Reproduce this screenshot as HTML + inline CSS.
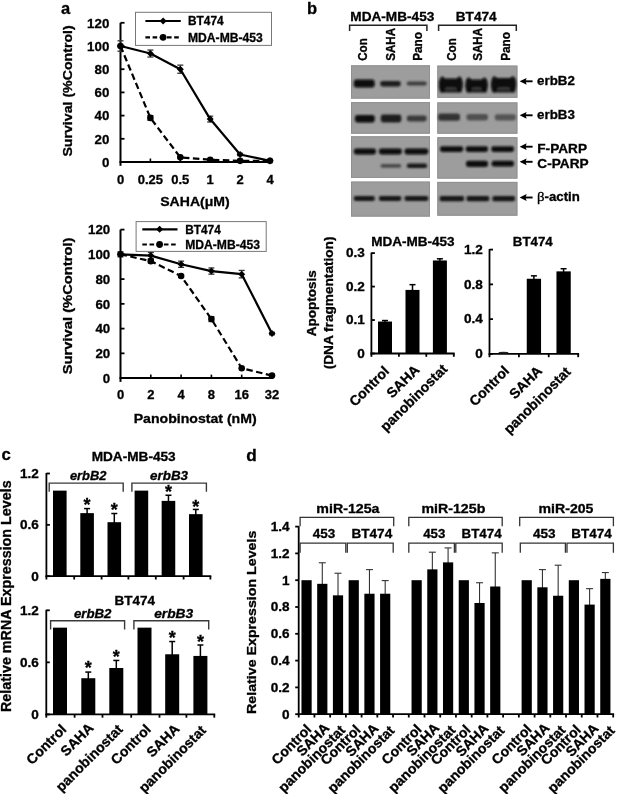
<!DOCTYPE html>
<html><head><meta charset="utf-8"><style>
html,body{margin:0;padding:0;background:#fff;}
svg{display:block;font-family:"Liberation Sans", sans-serif;will-change:transform;}
text{stroke:#000;stroke-width:0.3px;}
</style></head><body>
<svg width="617" height="794" viewBox="0 0 617 794">
<defs>
<filter id="blur1" x="-20%" y="-50%" width="140%" height="200%"><feGaussianBlur stdDeviation="0.9"/></filter>
<filter id="blur05"><feGaussianBlur stdDeviation="0.5"/></filter>
</defs>
<rect width="617" height="794" fill="#fff"/>
<text x="61.00" y="13.70" font-size="16.5" text-anchor="start" font-weight="bold">a</text>
<line x1="120.50" y1="22.80" x2="120.50" y2="165.80" stroke="#000" stroke-width="2" />
<line x1="119.50" y1="162.00" x2="271.50" y2="162.00" stroke="#000" stroke-width="2" />
<line x1="120.50" y1="162.00" x2="124.50" y2="162.00" stroke="#000" stroke-width="1.8" />
<text x="109.30" y="166.80" font-size="13.3" text-anchor="end" font-weight="bold">0</text>
<line x1="120.50" y1="138.80" x2="124.50" y2="138.80" stroke="#000" stroke-width="1.8" />
<text x="109.30" y="143.60" font-size="13.3" text-anchor="end" font-weight="bold">20</text>
<line x1="120.50" y1="115.60" x2="124.50" y2="115.60" stroke="#000" stroke-width="1.8" />
<text x="109.30" y="120.40" font-size="13.3" text-anchor="end" font-weight="bold">40</text>
<line x1="120.50" y1="92.40" x2="124.50" y2="92.40" stroke="#000" stroke-width="1.8" />
<text x="109.30" y="97.20" font-size="13.3" text-anchor="end" font-weight="bold">60</text>
<line x1="120.50" y1="69.20" x2="124.50" y2="69.20" stroke="#000" stroke-width="1.8" />
<text x="109.30" y="74.00" font-size="13.3" text-anchor="end" font-weight="bold">80</text>
<line x1="120.50" y1="46.00" x2="124.50" y2="46.00" stroke="#000" stroke-width="1.8" />
<text x="109.30" y="50.80" font-size="13.3" text-anchor="end" font-weight="bold">100</text>
<line x1="120.50" y1="22.80" x2="124.50" y2="22.80" stroke="#000" stroke-width="1.8" />
<text x="109.30" y="27.60" font-size="13.3" text-anchor="end" font-weight="bold">120</text>
<text x="120.50" y="183.70" font-size="13" text-anchor="middle" font-weight="bold">0</text>
<line x1="150.40" y1="162.00" x2="150.40" y2="158.50" stroke="#000" stroke-width="1.6" />
<text x="150.40" y="183.70" font-size="13" text-anchor="middle" font-weight="bold">0.25</text>
<line x1="180.30" y1="162.00" x2="180.30" y2="158.50" stroke="#000" stroke-width="1.6" />
<text x="180.30" y="183.70" font-size="13" text-anchor="middle" font-weight="bold">0.5</text>
<line x1="210.20" y1="162.00" x2="210.20" y2="158.50" stroke="#000" stroke-width="1.6" />
<text x="210.20" y="183.70" font-size="13" text-anchor="middle" font-weight="bold">1</text>
<line x1="240.10" y1="162.00" x2="240.10" y2="158.50" stroke="#000" stroke-width="1.6" />
<text x="240.10" y="183.70" font-size="13" text-anchor="middle" font-weight="bold">2</text>
<line x1="270.00" y1="162.00" x2="270.00" y2="158.50" stroke="#000" stroke-width="1.6" />
<text x="270.00" y="183.70" font-size="13" text-anchor="middle" font-weight="bold">4</text>
<text x="195.00" y="206.20" font-size="13.3" text-anchor="middle" font-weight="bold" textLength="69.50" lengthAdjust="spacingAndGlyphs">SAHA(μM)</text>
<text x="72.50" y="90.95" font-size="13" text-anchor="middle" font-weight="bold" textLength="131.30" lengthAdjust="spacingAndGlyphs" transform="rotate(-90 72.50 90.95)">Survival (%Control)</text>
<line x1="120.50" y1="40.78" x2="120.50" y2="51.22" stroke="#333" stroke-width="1.2" />
<line x1="117.50" y1="40.78" x2="123.50" y2="40.78" stroke="#333" stroke-width="1.3" />
<line x1="117.50" y1="51.22" x2="123.50" y2="51.22" stroke="#333" stroke-width="1.3" />
<line x1="150.40" y1="50.06" x2="150.40" y2="57.02" stroke="#333" stroke-width="1.2" />
<line x1="147.40" y1="50.06" x2="153.40" y2="50.06" stroke="#333" stroke-width="1.3" />
<line x1="147.40" y1="57.02" x2="153.40" y2="57.02" stroke="#333" stroke-width="1.3" />
<line x1="180.30" y1="65.14" x2="180.30" y2="73.26" stroke="#333" stroke-width="1.2" />
<line x1="177.30" y1="65.14" x2="183.30" y2="65.14" stroke="#333" stroke-width="1.3" />
<line x1="177.30" y1="73.26" x2="183.30" y2="73.26" stroke="#333" stroke-width="1.3" />
<line x1="210.20" y1="116.18" x2="210.20" y2="121.98" stroke="#333" stroke-width="1.2" />
<line x1="207.20" y1="116.18" x2="213.20" y2="116.18" stroke="#333" stroke-width="1.3" />
<line x1="207.20" y1="121.98" x2="213.20" y2="121.98" stroke="#333" stroke-width="1.3" />
<line x1="240.10" y1="153.30" x2="240.10" y2="155.62" stroke="#333" stroke-width="1.2" />
<line x1="237.10" y1="153.30" x2="243.10" y2="153.30" stroke="#333" stroke-width="1.3" />
<line x1="237.10" y1="155.62" x2="243.10" y2="155.62" stroke="#333" stroke-width="1.3" />
<line x1="150.40" y1="115.60" x2="150.40" y2="120.24" stroke="#333" stroke-width="1.2" />
<line x1="147.40" y1="115.60" x2="153.40" y2="115.60" stroke="#333" stroke-width="1.3" />
<line x1="147.40" y1="120.24" x2="153.40" y2="120.24" stroke="#333" stroke-width="1.3" />
<polyline points="120.50,46.00 150.40,117.92 180.30,157.36 210.20,159.68 240.10,160.84 270.00,160.84" fill="none" stroke="#000" stroke-width="2.2" stroke-dasharray="6.5,3.5"/>
<polyline points="120.50,46.00 150.40,53.54 180.30,69.20 210.20,119.08 240.10,154.46 270.00,160.84" fill="none" stroke="#000" stroke-width="2.2" stroke-linejoin="round"/>
<circle cx="120.50" cy="46.00" r="3.3" fill="#000"/>
<circle cx="150.40" cy="117.92" r="3.3" fill="#000"/>
<circle cx="180.30" cy="157.36" r="3.3" fill="#000"/>
<circle cx="210.20" cy="159.68" r="3.3" fill="#000"/>
<circle cx="240.10" cy="160.84" r="3.3" fill="#000"/>
<circle cx="270.00" cy="160.84" r="3.3" fill="#000"/>
<path d="M117.00,46.00 L120.50,42.50 L124.00,46.00 L120.50,49.50 Z" fill="#000"/>
<path d="M146.90,53.54 L150.40,50.04 L153.90,53.54 L150.40,57.04 Z" fill="#000"/>
<path d="M176.80,69.20 L180.30,65.70 L183.80,69.20 L180.30,72.70 Z" fill="#000"/>
<path d="M206.70,119.08 L210.20,115.58 L213.70,119.08 L210.20,122.58 Z" fill="#000"/>
<path d="M236.60,154.46 L240.10,150.96 L243.60,154.46 L240.10,157.96 Z" fill="#000"/>
<path d="M266.50,160.84 L270.00,157.34 L273.50,160.84 L270.00,164.34 Z" fill="#000"/>
<rect x="135.5" y="12.3" width="136.0" height="33.099999999999994" fill="#fff" stroke="#777" stroke-width="1"/>
<line x1="145.40" y1="21.00" x2="180.80" y2="21.00" stroke="#000" stroke-width="2.2" />
<path d="M159.60,21.00 L163.10,17.50 L166.60,21.00 L163.10,24.50 Z" fill="#000"/>
<line x1="145.40" y1="37.30" x2="180.80" y2="37.30" stroke="#000" stroke-width="2.2" stroke-dasharray="4.6,2.6"/>
<circle cx="163.10" cy="37.30" r="3.4" fill="#000"/>
<text x="188.00" y="25.40" font-size="12.3" text-anchor="start" font-weight="bold" textLength="35.60" lengthAdjust="spacingAndGlyphs">BT474</text>
<text x="188.00" y="41.70" font-size="12.3" text-anchor="start" font-weight="bold" textLength="74.80" lengthAdjust="spacingAndGlyphs">MDA-MB-453</text>
<line x1="120.50" y1="229.60" x2="120.50" y2="381.90" stroke="#000" stroke-width="2" />
<line x1="119.50" y1="378.10" x2="273.50" y2="378.10" stroke="#000" stroke-width="2" />
<line x1="120.50" y1="378.10" x2="124.50" y2="378.10" stroke="#000" stroke-width="1.8" />
<text x="110.20" y="382.90" font-size="13.3" text-anchor="end" font-weight="bold">0</text>
<line x1="120.50" y1="353.35" x2="124.50" y2="353.35" stroke="#000" stroke-width="1.8" />
<text x="110.20" y="358.15" font-size="13.3" text-anchor="end" font-weight="bold">20</text>
<line x1="120.50" y1="328.60" x2="124.50" y2="328.60" stroke="#000" stroke-width="1.8" />
<text x="110.20" y="333.40" font-size="13.3" text-anchor="end" font-weight="bold">40</text>
<line x1="120.50" y1="303.85" x2="124.50" y2="303.85" stroke="#000" stroke-width="1.8" />
<text x="110.20" y="308.65" font-size="13.3" text-anchor="end" font-weight="bold">60</text>
<line x1="120.50" y1="279.10" x2="124.50" y2="279.10" stroke="#000" stroke-width="1.8" />
<text x="110.20" y="283.90" font-size="13.3" text-anchor="end" font-weight="bold">80</text>
<line x1="120.50" y1="254.35" x2="124.50" y2="254.35" stroke="#000" stroke-width="1.8" />
<text x="110.20" y="259.15" font-size="13.3" text-anchor="end" font-weight="bold">100</text>
<line x1="120.50" y1="229.60" x2="124.50" y2="229.60" stroke="#000" stroke-width="1.8" />
<text x="110.20" y="234.40" font-size="13.3" text-anchor="end" font-weight="bold">120</text>
<text x="120.50" y="399.30" font-size="13" text-anchor="middle" font-weight="bold">0</text>
<line x1="150.80" y1="378.10" x2="150.80" y2="374.60" stroke="#000" stroke-width="1.6" />
<text x="150.80" y="399.30" font-size="13" text-anchor="middle" font-weight="bold">2</text>
<line x1="181.10" y1="378.10" x2="181.10" y2="374.60" stroke="#000" stroke-width="1.6" />
<text x="181.10" y="399.30" font-size="13" text-anchor="middle" font-weight="bold">4</text>
<line x1="211.40" y1="378.10" x2="211.40" y2="374.60" stroke="#000" stroke-width="1.6" />
<text x="211.40" y="399.30" font-size="13" text-anchor="middle" font-weight="bold">8</text>
<line x1="241.70" y1="378.10" x2="241.70" y2="374.60" stroke="#000" stroke-width="1.6" />
<text x="241.70" y="399.30" font-size="13" text-anchor="middle" font-weight="bold">16</text>
<line x1="272.00" y1="378.10" x2="272.00" y2="374.60" stroke="#000" stroke-width="1.6" />
<text x="272.00" y="399.30" font-size="13" text-anchor="middle" font-weight="bold">32</text>
<text x="195.20" y="423.10" font-size="13.3" text-anchor="middle" font-weight="bold" textLength="123.00" lengthAdjust="spacingAndGlyphs">Panobinostat (nM)</text>
<text x="72.50" y="305.90" font-size="13" text-anchor="middle" font-weight="bold" textLength="136.80" lengthAdjust="spacingAndGlyphs" transform="rotate(-90 72.50 305.90)">Survival (%Control)</text>
<line x1="120.50" y1="251.88" x2="120.50" y2="256.82" stroke="#333" stroke-width="1.2" />
<line x1="117.50" y1="251.88" x2="123.50" y2="251.88" stroke="#333" stroke-width="1.3" />
<line x1="117.50" y1="256.82" x2="123.50" y2="256.82" stroke="#333" stroke-width="1.3" />
<line x1="150.80" y1="252.49" x2="150.80" y2="258.68" stroke="#333" stroke-width="1.2" />
<line x1="147.80" y1="252.49" x2="153.80" y2="252.49" stroke="#333" stroke-width="1.3" />
<line x1="147.80" y1="258.68" x2="153.80" y2="258.68" stroke="#333" stroke-width="1.3" />
<line x1="181.10" y1="261.16" x2="181.10" y2="267.34" stroke="#333" stroke-width="1.2" />
<line x1="178.10" y1="261.16" x2="184.10" y2="261.16" stroke="#333" stroke-width="1.3" />
<line x1="178.10" y1="267.34" x2="184.10" y2="267.34" stroke="#333" stroke-width="1.3" />
<line x1="211.40" y1="267.96" x2="211.40" y2="274.15" stroke="#333" stroke-width="1.2" />
<line x1="208.40" y1="267.96" x2="214.40" y2="267.96" stroke="#333" stroke-width="1.3" />
<line x1="208.40" y1="274.15" x2="214.40" y2="274.15" stroke="#333" stroke-width="1.3" />
<line x1="241.70" y1="270.44" x2="241.70" y2="277.86" stroke="#333" stroke-width="1.2" />
<line x1="238.70" y1="270.44" x2="244.70" y2="270.44" stroke="#333" stroke-width="1.3" />
<line x1="238.70" y1="277.86" x2="244.70" y2="277.86" stroke="#333" stroke-width="1.3" />
<line x1="272.00" y1="332.31" x2="272.00" y2="334.79" stroke="#333" stroke-width="1.2" />
<line x1="269.00" y1="332.31" x2="275.00" y2="332.31" stroke="#333" stroke-width="1.3" />
<line x1="269.00" y1="334.79" x2="275.00" y2="334.79" stroke="#333" stroke-width="1.3" />
<line x1="150.80" y1="259.30" x2="150.80" y2="263.01" stroke="#333" stroke-width="1.2" />
<line x1="147.80" y1="259.30" x2="153.80" y2="259.30" stroke="#333" stroke-width="1.3" />
<line x1="147.80" y1="263.01" x2="153.80" y2="263.01" stroke="#333" stroke-width="1.3" />
<line x1="181.10" y1="274.77" x2="181.10" y2="277.24" stroke="#333" stroke-width="1.2" />
<line x1="178.10" y1="274.77" x2="184.10" y2="274.77" stroke="#333" stroke-width="1.3" />
<line x1="178.10" y1="277.24" x2="184.10" y2="277.24" stroke="#333" stroke-width="1.3" />
<line x1="211.40" y1="316.60" x2="211.40" y2="321.55" stroke="#333" stroke-width="1.2" />
<line x1="208.40" y1="316.60" x2="214.40" y2="316.60" stroke="#333" stroke-width="1.3" />
<line x1="208.40" y1="321.55" x2="214.40" y2="321.55" stroke="#333" stroke-width="1.3" />
<polyline points="120.50,254.35 150.80,261.16 181.10,276.01 211.40,319.07 241.70,368.20 272.00,375.62" fill="none" stroke="#000" stroke-width="2.2" stroke-dasharray="6.5,3.5"/>
<polyline points="120.50,254.35 150.80,255.59 181.10,264.25 211.40,271.06 241.70,274.15 272.00,333.55" fill="none" stroke="#000" stroke-width="2.2" stroke-linejoin="round"/>
<circle cx="120.50" cy="254.35" r="3.3" fill="#000"/>
<circle cx="150.80" cy="261.16" r="3.3" fill="#000"/>
<circle cx="181.10" cy="276.01" r="3.3" fill="#000"/>
<circle cx="211.40" cy="319.07" r="3.3" fill="#000"/>
<circle cx="241.70" cy="368.20" r="3.3" fill="#000"/>
<circle cx="272.00" cy="375.62" r="3.3" fill="#000"/>
<path d="M117.00,254.35 L120.50,250.85 L124.00,254.35 L120.50,257.85 Z" fill="#000"/>
<path d="M147.30,255.59 L150.80,252.09 L154.30,255.59 L150.80,259.09 Z" fill="#000"/>
<path d="M177.60,264.25 L181.10,260.75 L184.60,264.25 L181.10,267.75 Z" fill="#000"/>
<path d="M207.90,271.06 L211.40,267.56 L214.90,271.06 L211.40,274.56 Z" fill="#000"/>
<path d="M238.20,274.15 L241.70,270.65 L245.20,274.15 L241.70,277.65 Z" fill="#000"/>
<path d="M268.50,333.55 L272.00,330.05 L275.50,333.55 L272.00,337.05 Z" fill="#000"/>
<rect x="136.1" y="221.6" width="130.1" height="29.80000000000001" fill="#fff" stroke="#777" stroke-width="1"/>
<line x1="142.30" y1="229.30" x2="177.50" y2="229.30" stroke="#000" stroke-width="2.2" />
<path d="M156.10,229.30 L159.60,225.80 L163.10,229.30 L159.60,232.80 Z" fill="#000"/>
<line x1="142.30" y1="244.50" x2="177.50" y2="244.50" stroke="#000" stroke-width="2.2" stroke-dasharray="4.6,2.6"/>
<circle cx="159.60" cy="244.50" r="3.4" fill="#000"/>
<text x="185.20" y="233.70" font-size="12.3" text-anchor="start" font-weight="bold" textLength="35.60" lengthAdjust="spacingAndGlyphs">BT474</text>
<text x="185.20" y="248.90" font-size="12.3" text-anchor="start" font-weight="bold" textLength="74.80" lengthAdjust="spacingAndGlyphs">MDA-MB-453</text>
<text x="307.00" y="13.90" font-size="16.5" text-anchor="start" font-weight="bold">b</text>
<rect x="351.00" y="65.30" width="79.00" height="33.30" fill="#9d9d9d" />
<rect x="351.50" y="65.80" width="78.00" height="32.30" fill="none" stroke="#919191" stroke-width="1"/>
<rect x="351.00" y="102.10" width="79.00" height="31.60" fill="#9d9d9d" />
<rect x="351.50" y="102.60" width="78.00" height="30.60" fill="none" stroke="#919191" stroke-width="1"/>
<rect x="351.00" y="136.30" width="79.00" height="41.60" fill="#9d9d9d" />
<rect x="351.50" y="136.80" width="78.00" height="40.60" fill="none" stroke="#919191" stroke-width="1"/>
<rect x="351.00" y="181.60" width="79.00" height="35.00" fill="#9d9d9d" />
<rect x="351.50" y="182.10" width="78.00" height="34.00" fill="none" stroke="#919191" stroke-width="1"/>
<rect x="437.30" y="65.60" width="80.10" height="32.20" fill="#9d9d9d" />
<rect x="437.80" y="66.10" width="79.10" height="31.20" fill="none" stroke="#919191" stroke-width="1"/>
<rect x="437.30" y="102.40" width="80.10" height="31.30" fill="#9d9d9d" />
<rect x="437.80" y="102.90" width="79.10" height="30.30" fill="none" stroke="#919191" stroke-width="1"/>
<rect x="437.30" y="137.20" width="80.10" height="41.40" fill="#9d9d9d" />
<rect x="437.80" y="137.70" width="79.10" height="40.40" fill="none" stroke="#919191" stroke-width="1"/>
<rect x="437.30" y="181.90" width="80.10" height="33.80" fill="#9d9d9d" />
<rect x="437.80" y="182.40" width="79.10" height="32.80" fill="none" stroke="#919191" stroke-width="1"/>
<rect x="353.80" y="79.60" width="20.80" height="8.00" rx="2.40" fill="#0a0a0a" filter="url(#blur1)"/>
<rect x="380.20" y="81.00" width="20.60" height="5.40" rx="2.40" fill="#1c1c1c" filter="url(#blur1)"/>
<rect x="406.80" y="81.60" width="19.90" height="4.00" rx="2.00" fill="#3c3c3c" filter="url(#blur1)"/>
<g filter="url(#blur1)"><rect x="439.90" y="87.6" width="21.90" height="1.6" fill="#3a3a3a"/><rect x="439.70" y="89.2" width="22.30" height="3.3" rx="1.4" fill="#1c1c1c"/><rect x="439.90" y="78.40" width="21.90" height="9.40" rx="2" fill="#070707"/><ellipse cx="442.30" cy="84.70" rx="3.4" ry="8.10" fill="#070707"/><ellipse cx="459.40" cy="84.50" rx="3.4" ry="7.90" fill="#070707"/></g>
<g filter="url(#blur1)"><rect x="466.30" y="87.6" width="20.50" height="1.6" fill="#3a3a3a"/><rect x="466.10" y="89.2" width="20.90" height="3.3" rx="1.4" fill="#1c1c1c"/><rect x="466.30" y="79.40" width="20.50" height="8.40" rx="2" fill="#070707"/><ellipse cx="468.70" cy="85.20" rx="3.4" ry="7.60" fill="#070707"/><ellipse cx="484.40" cy="85.00" rx="3.4" ry="7.40" fill="#070707"/></g>
<g filter="url(#blur1)"><rect x="492.00" y="87.6" width="23.20" height="1.6" fill="#3a3a3a"/><rect x="491.80" y="89.2" width="23.60" height="3.3" rx="1.4" fill="#1c1c1c"/><rect x="492.00" y="78.00" width="23.20" height="9.80" rx="2" fill="#070707"/><ellipse cx="494.40" cy="84.50" rx="3.4" ry="8.30" fill="#070707"/><ellipse cx="512.80" cy="84.30" rx="3.4" ry="8.10" fill="#070707"/></g>
<rect x="354.90" y="115.10" width="19.90" height="7.30" rx="2.40" fill="#0d0d0d" filter="url(#blur1)"/>
<rect x="380.80" y="114.50" width="20.50" height="7.90" rx="2.40" fill="#1e1e1e" filter="url(#blur1)"/>
<rect x="406.80" y="115.60" width="19.90" height="5.90" rx="2.40" fill="#3a3a3a" filter="url(#blur1)"/>
<rect x="438.10" y="113.60" width="21.90" height="7.20" rx="2.40" fill="#333" filter="url(#blur1)"/>
<rect x="466.50" y="114.00" width="21.50" height="6.40" rx="2.40" fill="#505050" filter="url(#blur1)"/>
<rect x="494.80" y="114.20" width="21.10" height="6.20" rx="2.40" fill="#555" filter="url(#blur1)"/>
<rect x="353.80" y="148.60" width="22.20" height="5.80" rx="2.40" fill="#0a0a0a" filter="url(#blur1)"/>
<rect x="378.90" y="148.60" width="23.00" height="5.80" rx="2.40" fill="#0a0a0a" filter="url(#blur1)"/>
<rect x="404.50" y="148.60" width="23.80" height="5.80" rx="2.40" fill="#0a0a0a" filter="url(#blur1)"/>
<rect x="380.50" y="163.90" width="20.80" height="3.90" rx="1.95" fill="#4a4a4a" filter="url(#blur1)"/>
<rect x="406.80" y="163.40" width="20.40" height="4.60" rx="2.30" fill="#161616" filter="url(#blur1)"/>
<rect x="440.00" y="146.20" width="23.20" height="5.80" rx="2.40" fill="#0a0a0a" filter="url(#blur1)"/>
<rect x="465.70" y="146.20" width="22.30" height="5.80" rx="2.40" fill="#0a0a0a" filter="url(#blur1)"/>
<rect x="491.30" y="146.20" width="22.70" height="5.80" rx="2.40" fill="#0a0a0a" filter="url(#blur1)"/>
<rect x="466.00" y="160.80" width="22.00" height="6.20" rx="2.40" fill="#080808" filter="url(#blur1)"/>
<rect x="491.60" y="160.80" width="22.40" height="5.80" rx="2.40" fill="#0a0a0a" filter="url(#blur1)"/>
<rect x="353.80" y="196.00" width="21.00" height="4.90" rx="1.80" fill="#161616" filter="url(#blur1)"/>
<rect x="378.90" y="196.00" width="22.40" height="4.90" rx="1.80" fill="#161616" filter="url(#blur1)"/>
<rect x="404.50" y="196.00" width="23.80" height="4.90" rx="1.80" fill="#161616" filter="url(#blur1)"/>
<rect x="439.70" y="195.90" width="24.30" height="5.30" rx="1.80" fill="#121212" filter="url(#blur1)"/>
<rect x="466.50" y="195.90" width="22.70" height="5.30" rx="1.80" fill="#121212" filter="url(#blur1)"/>
<rect x="492.40" y="195.90" width="22.60" height="5.30" rx="1.80" fill="#121212" filter="url(#blur1)"/>
<text x="350.30" y="20.70" font-size="13.2" text-anchor="start" font-weight="bold" textLength="84.00" lengthAdjust="spacingAndGlyphs">MDA-MB-453</text>
<text x="455.80" y="20.70" font-size="13.2" text-anchor="start" font-weight="bold" textLength="40.80" lengthAdjust="spacingAndGlyphs">BT474</text>
<polyline points="349.60,31.00 349.60,25.30 426.90,25.30 426.90,31.00" fill="none" stroke="#222" stroke-width="1.5" />
<polyline points="438.60,31.00 438.60,25.30 516.30,25.30 516.30,31.00" fill="none" stroke="#222" stroke-width="1.5" />
<text transform="translate(367.40 60.80) rotate(-90) scale(1 1.1)" x="0" y="0" font-size="12" font-weight="bold" text-anchor="start" textLength="22.60" lengthAdjust="spacingAndGlyphs">Con</text>
<text transform="translate(394.50 60.80) rotate(-90) scale(1 1.1)" x="0" y="0" font-size="12" font-weight="bold" text-anchor="start" textLength="32.80" lengthAdjust="spacingAndGlyphs">SAHA</text>
<text transform="translate(421.90 60.80) rotate(-90) scale(1 1.1)" x="0" y="0" font-size="12" font-weight="bold" text-anchor="start" textLength="28.80" lengthAdjust="spacingAndGlyphs">Pano</text>
<text transform="translate(455.80 60.80) rotate(-90) scale(1 1.1)" x="0" y="0" font-size="12" font-weight="bold" text-anchor="start" textLength="22.60" lengthAdjust="spacingAndGlyphs">Con</text>
<text transform="translate(482.00 60.80) rotate(-90) scale(1 1.1)" x="0" y="0" font-size="12" font-weight="bold" text-anchor="start" textLength="32.80" lengthAdjust="spacingAndGlyphs">SAHA</text>
<text transform="translate(510.00 60.80) rotate(-90) scale(1 1.1)" x="0" y="0" font-size="12" font-weight="bold" text-anchor="start" textLength="28.80" lengthAdjust="spacingAndGlyphs">Pano</text>
<line x1="524.60" y1="81.30" x2="532.60" y2="81.30" stroke="#000" stroke-width="1.9" />
<path d="M519.60,81.30 L526.60,77.90 L525.60,81.30 L526.60,84.70 Z" fill="#000"/>
<text x="537.10" y="84.90" font-size="12" text-anchor="start" font-weight="bold" textLength="37.80" lengthAdjust="spacingAndGlyphs">erbB2</text>
<line x1="524.60" y1="115.30" x2="532.60" y2="115.30" stroke="#000" stroke-width="1.9" />
<path d="M519.60,115.30 L526.60,111.90 L525.60,115.30 L526.60,118.70 Z" fill="#000"/>
<text x="537.10" y="118.90" font-size="12" text-anchor="start" font-weight="bold" textLength="37.80" lengthAdjust="spacingAndGlyphs">erbB3</text>
<line x1="524.60" y1="146.70" x2="532.60" y2="146.70" stroke="#000" stroke-width="1.9" />
<path d="M519.60,146.70 L526.60,143.30 L525.60,146.70 L526.60,150.10 Z" fill="#000"/>
<text x="537.30" y="152.90" font-size="12" text-anchor="start" font-weight="bold" textLength="49.70" lengthAdjust="spacingAndGlyphs">F-PARP</text>
<line x1="524.60" y1="161.80" x2="532.60" y2="161.80" stroke="#000" stroke-width="1.9" />
<path d="M519.60,161.80 L526.60,158.40 L525.60,161.80 L526.60,165.20 Z" fill="#000"/>
<text x="537.30" y="168.10" font-size="12" text-anchor="start" font-weight="bold" textLength="51.30" lengthAdjust="spacingAndGlyphs">C-PARP</text>
<line x1="524.60" y1="197.50" x2="532.60" y2="197.50" stroke="#000" stroke-width="1.9" />
<path d="M519.60,197.50 L526.60,194.10 L525.60,197.50 L526.60,200.90 Z" fill="#000"/>
<text x="537.0" y="201.4" font-size="12" font-weight="bold" textLength="42.8" lengthAdjust="spacingAndGlyphs"><tspan font-family="Liberation Serif" font-weight="normal" font-size="13.5">β</tspan>-actin</text>
<line x1="385.00" y1="322.54" x2="385.00" y2="320.54" stroke="#000" stroke-width="1.5" />
<line x1="382.00" y1="320.54" x2="388.00" y2="320.54" stroke="#000" stroke-width="1.5" />
<rect x="378.00" y="321.54" width="14.00" height="31.96" fill="#000" />
<line x1="412.50" y1="290.91" x2="412.50" y2="284.66" stroke="#000" stroke-width="1.5" />
<line x1="409.50" y1="284.66" x2="415.50" y2="284.66" stroke="#000" stroke-width="1.5" />
<rect x="405.50" y="289.91" width="14.00" height="63.59" fill="#000" />
<line x1="439.90" y1="261.46" x2="439.90" y2="258.79" stroke="#000" stroke-width="1.5" />
<line x1="436.90" y1="258.79" x2="442.90" y2="258.79" stroke="#000" stroke-width="1.5" />
<rect x="432.90" y="260.46" width="14.00" height="93.04" fill="#000" />
<line x1="371.40" y1="252.60" x2="371.40" y2="354.40" stroke="#000" stroke-width="1.8" />
<line x1="370.50" y1="353.50" x2="454.70" y2="353.50" stroke="#000" stroke-width="1.8" />
<line x1="371.40" y1="353.50" x2="374.90" y2="353.50" stroke="#000" stroke-width="1.8" />
<text transform="translate(364.90 357.80) scale(1.13 1)" font-size="12.0" font-weight="bold" text-anchor="end">0</text>
<line x1="371.40" y1="320.03" x2="374.90" y2="320.03" stroke="#000" stroke-width="1.8" />
<text transform="translate(364.90 324.33) scale(1.13 1)" font-size="12.0" font-weight="bold" text-anchor="end">0.1</text>
<line x1="371.40" y1="286.57" x2="374.90" y2="286.57" stroke="#000" stroke-width="1.8" />
<text transform="translate(364.90 290.86) scale(1.13 1)" font-size="12.0" font-weight="bold" text-anchor="end">0.2</text>
<line x1="371.40" y1="253.10" x2="374.90" y2="253.10" stroke="#000" stroke-width="1.8" />
<text transform="translate(364.90 257.40) scale(1.13 1)" font-size="12.0" font-weight="bold" text-anchor="end">0.3</text>
<line x1="371.40" y1="353.50" x2="371.40" y2="356.80" stroke="#000" stroke-width="1.8" />
<line x1="398.90" y1="353.50" x2="398.90" y2="356.80" stroke="#000" stroke-width="1.8" />
<line x1="426.30" y1="353.50" x2="426.30" y2="356.80" stroke="#000" stroke-width="1.8" />
<line x1="453.80" y1="353.50" x2="453.80" y2="356.80" stroke="#000" stroke-width="1.8" />
<text x="371.20" y="246.20" font-size="12.3" text-anchor="start" font-weight="bold" textLength="83.40" lengthAdjust="spacingAndGlyphs">MDA-MB-453</text>
<line x1="533.90" y1="279.76" x2="533.90" y2="275.85" stroke="#000" stroke-width="1.5" />
<line x1="530.90" y1="275.85" x2="536.90" y2="275.85" stroke="#000" stroke-width="1.5" />
<rect x="526.75" y="278.76" width="14.30" height="75.14" fill="#000" />
<line x1="563.60" y1="272.37" x2="563.60" y2="268.72" stroke="#000" stroke-width="1.5" />
<line x1="560.60" y1="268.72" x2="566.60" y2="268.72" stroke="#000" stroke-width="1.5" />
<rect x="556.45" y="271.37" width="14.30" height="82.53" fill="#000" />
<line x1="489.50" y1="249.10" x2="489.50" y2="354.80" stroke="#000" stroke-width="1.8" />
<line x1="488.60" y1="353.90" x2="579.10" y2="353.90" stroke="#000" stroke-width="1.8" />
<line x1="489.50" y1="353.90" x2="493.00" y2="353.90" stroke="#000" stroke-width="1.8" />
<text transform="translate(482.90 358.20) scale(1.13 1)" font-size="12.0" font-weight="bold" text-anchor="end">0</text>
<line x1="489.50" y1="319.13" x2="493.00" y2="319.13" stroke="#000" stroke-width="1.8" />
<text transform="translate(482.90 323.43) scale(1.13 1)" font-size="12.0" font-weight="bold" text-anchor="end">0.4</text>
<line x1="489.50" y1="284.37" x2="493.00" y2="284.37" stroke="#000" stroke-width="1.8" />
<text transform="translate(482.90 288.66) scale(1.13 1)" font-size="12.0" font-weight="bold" text-anchor="end">0.8</text>
<line x1="489.50" y1="249.60" x2="493.00" y2="249.60" stroke="#000" stroke-width="1.8" />
<text transform="translate(482.90 253.90) scale(1.13 1)" font-size="12.0" font-weight="bold" text-anchor="end">1.2</text>
<line x1="489.50" y1="353.90" x2="489.50" y2="357.20" stroke="#000" stroke-width="1.8" />
<line x1="518.90" y1="353.90" x2="518.90" y2="357.20" stroke="#000" stroke-width="1.8" />
<line x1="548.70" y1="353.90" x2="548.70" y2="357.20" stroke="#000" stroke-width="1.8" />
<line x1="578.20" y1="353.90" x2="578.20" y2="357.20" stroke="#000" stroke-width="1.8" />
<ellipse cx="503.5" cy="352.6" rx="5" ry="0.9" fill="#222" filter="url(#blur05)"/>
<text x="512.80" y="246.00" font-size="12.3" text-anchor="start" font-weight="bold" textLength="39.90" lengthAdjust="spacingAndGlyphs">BT474</text>
<text transform="translate(316.40 336.20) rotate(-90) scale(1 1.0)" x="0" y="0" font-size="12.3" font-weight="bold" text-anchor="start" textLength="66.00" lengthAdjust="spacingAndGlyphs">Apoptosis</text>
<text transform="translate(333.00 369.30) rotate(-90) scale(1 1.0)" x="0" y="0" font-size="12.3" font-weight="bold" text-anchor="start" textLength="132.80" lengthAdjust="spacingAndGlyphs">(DNA fragmentation)</text>
<text transform="translate(390.10 372.10) rotate(-45)" x="0" y="0" font-size="14" font-weight="bold" text-anchor="end">Control</text>
<text transform="translate(420.30 370.80) rotate(-45)" x="0" y="0" font-size="14" font-weight="bold" text-anchor="end">SAHA</text>
<text transform="translate(448.20 370.00) rotate(-45)" x="0" y="0" font-size="14" font-weight="bold" text-anchor="end">panobinostat</text>
<text transform="translate(510.10 371.80) rotate(-45)" x="0" y="0" font-size="14" font-weight="bold" text-anchor="end">Control</text>
<text transform="translate(543.00 371.80) rotate(-45)" x="0" y="0" font-size="14" font-weight="bold" text-anchor="end">SAHA</text>
<text transform="translate(571.60 372.70) rotate(-45)" x="0" y="0" font-size="14" font-weight="bold" text-anchor="end">panobinostat</text>
<text x="1.60" y="460.20" font-size="16.8" text-anchor="start" font-weight="bold">c</text>
<rect x="53.00" y="490.62" width="13.60" height="85.58" fill="#000" />
<line x1="87.10" y1="514.13" x2="87.10" y2="508.59" stroke="#000" stroke-width="1.5" />
<line x1="84.10" y1="508.59" x2="90.10" y2="508.59" stroke="#000" stroke-width="1.5" />
<rect x="80.30" y="513.13" width="13.60" height="63.07" fill="#000" />
<line x1="114.30" y1="523.20" x2="114.30" y2="513.51" stroke="#000" stroke-width="1.5" />
<line x1="111.30" y1="513.51" x2="117.30" y2="513.51" stroke="#000" stroke-width="1.5" />
<rect x="107.50" y="522.20" width="13.60" height="54.00" fill="#000" />
<rect x="134.60" y="490.62" width="13.60" height="85.58" fill="#000" />
<line x1="168.45" y1="501.89" x2="168.45" y2="495.24" stroke="#000" stroke-width="1.5" />
<line x1="165.45" y1="495.24" x2="171.45" y2="495.24" stroke="#000" stroke-width="1.5" />
<rect x="161.65" y="500.89" width="13.60" height="75.31" fill="#000" />
<line x1="195.80" y1="515.15" x2="195.80" y2="509.44" stroke="#000" stroke-width="1.5" />
<line x1="192.80" y1="509.44" x2="198.80" y2="509.44" stroke="#000" stroke-width="1.5" />
<rect x="189.00" y="514.15" width="13.60" height="62.05" fill="#000" />
<line x1="46.40" y1="473.00" x2="46.40" y2="577.10" stroke="#000" stroke-width="1.8" />
<line x1="45.50" y1="576.20" x2="211.30" y2="576.20" stroke="#000" stroke-width="1.8" />
<line x1="46.40" y1="576.20" x2="49.90" y2="576.20" stroke="#000" stroke-width="1.8" />
<text transform="translate(38.90 580.50) scale(1.13 1)" font-size="12.0" font-weight="bold" text-anchor="end">0</text>
<line x1="46.40" y1="524.85" x2="49.90" y2="524.85" stroke="#000" stroke-width="1.8" />
<text transform="translate(38.90 529.15) scale(1.13 1)" font-size="12.0" font-weight="bold" text-anchor="end">0.6</text>
<line x1="46.40" y1="473.50" x2="49.90" y2="473.50" stroke="#000" stroke-width="1.8" />
<text transform="translate(38.90 477.80) scale(1.13 1)" font-size="12.0" font-weight="bold" text-anchor="end">1.2</text>
<line x1="46.40" y1="576.20" x2="46.40" y2="579.50" stroke="#000" stroke-width="1.8" />
<line x1="74.20" y1="576.20" x2="74.20" y2="579.50" stroke="#000" stroke-width="1.8" />
<line x1="101.60" y1="576.20" x2="101.60" y2="579.50" stroke="#000" stroke-width="1.8" />
<line x1="128.40" y1="576.20" x2="128.40" y2="579.50" stroke="#000" stroke-width="1.8" />
<line x1="155.80" y1="576.20" x2="155.80" y2="579.50" stroke="#000" stroke-width="1.8" />
<line x1="183.60" y1="576.20" x2="183.60" y2="579.50" stroke="#000" stroke-width="1.8" />
<line x1="210.40" y1="576.20" x2="210.40" y2="579.50" stroke="#000" stroke-width="1.8" />
<text x="87.10" y="511.04" font-size="18" font-weight="bold" text-anchor="middle">*</text>
<text x="114.30" y="516.04" font-size="18" font-weight="bold" text-anchor="middle">*</text>
<text x="168.45" y="497.84" font-size="18" font-weight="bold" text-anchor="middle">*</text>
<text x="195.80" y="512.64" font-size="18" font-weight="bold" text-anchor="middle">*</text>
<text x="91.70" y="460.80" font-size="12.3" text-anchor="start" font-weight="bold" textLength="84.00" lengthAdjust="spacingAndGlyphs">MDA-MB-453</text>
<polyline points="49.20,491.80 49.20,483.10 123.20,483.10 123.20,491.80" fill="none" stroke="#3a3a3a" stroke-width="1.4" />
<polyline points="131.90,491.80 131.90,483.10 206.40,483.10 206.40,491.80" fill="none" stroke="#3a3a3a" stroke-width="1.4" />
<text x="69.90" y="479.60" font-size="12.3" text-anchor="start" font-weight="bold" font-style="italic" textLength="36.50" lengthAdjust="spacingAndGlyphs">erbB2</text>
<text x="150.10" y="479.60" font-size="12.3" text-anchor="start" font-weight="bold" font-style="italic" textLength="37.90" lengthAdjust="spacingAndGlyphs">erbB3</text>
<rect x="53.00" y="627.65" width="14.00" height="86.75" fill="#000" />
<line x1="88.30" y1="679.23" x2="88.30" y2="672.07" stroke="#000" stroke-width="1.5" />
<line x1="85.30" y1="672.07" x2="91.30" y2="672.07" stroke="#000" stroke-width="1.5" />
<rect x="81.30" y="678.23" width="14.00" height="36.17" fill="#000" />
<line x1="116.30" y1="668.99" x2="116.30" y2="660.44" stroke="#000" stroke-width="1.5" />
<line x1="113.30" y1="660.44" x2="119.30" y2="660.44" stroke="#000" stroke-width="1.5" />
<rect x="109.30" y="667.99" width="14.00" height="46.41" fill="#000" />
<rect x="137.50" y="627.65" width="14.00" height="86.75" fill="#000" />
<line x1="172.20" y1="655.28" x2="172.20" y2="641.53" stroke="#000" stroke-width="1.5" />
<line x1="169.20" y1="641.53" x2="175.20" y2="641.53" stroke="#000" stroke-width="1.5" />
<rect x="165.20" y="654.28" width="14.00" height="60.12" fill="#000" />
<line x1="200.40" y1="656.93" x2="200.40" y2="645.00" stroke="#000" stroke-width="1.5" />
<line x1="197.40" y1="645.00" x2="203.40" y2="645.00" stroke="#000" stroke-width="1.5" />
<rect x="193.40" y="655.93" width="14.00" height="58.47" fill="#000" />
<line x1="46.30" y1="609.80" x2="46.30" y2="715.30" stroke="#000" stroke-width="1.8" />
<line x1="45.40" y1="714.40" x2="215.20" y2="714.40" stroke="#000" stroke-width="1.8" />
<line x1="46.30" y1="714.40" x2="49.80" y2="714.40" stroke="#000" stroke-width="1.8" />
<text transform="translate(38.90 718.70) scale(1.13 1)" font-size="12.0" font-weight="bold" text-anchor="end">0</text>
<line x1="46.30" y1="662.35" x2="49.80" y2="662.35" stroke="#000" stroke-width="1.8" />
<text transform="translate(38.90 666.65) scale(1.13 1)" font-size="12.0" font-weight="bold" text-anchor="end">0.6</text>
<line x1="46.30" y1="610.30" x2="49.80" y2="610.30" stroke="#000" stroke-width="1.8" />
<text transform="translate(38.90 614.60) scale(1.13 1)" font-size="12.0" font-weight="bold" text-anchor="end">1.2</text>
<line x1="46.30" y1="714.40" x2="46.30" y2="717.70" stroke="#000" stroke-width="1.8" />
<line x1="74.60" y1="714.40" x2="74.60" y2="717.70" stroke="#000" stroke-width="1.8" />
<line x1="102.50" y1="714.40" x2="102.50" y2="717.70" stroke="#000" stroke-width="1.8" />
<line x1="131.20" y1="714.40" x2="131.20" y2="717.70" stroke="#000" stroke-width="1.8" />
<line x1="159.50" y1="714.40" x2="159.50" y2="717.70" stroke="#000" stroke-width="1.8" />
<line x1="186.40" y1="714.40" x2="186.40" y2="717.70" stroke="#000" stroke-width="1.8" />
<line x1="214.30" y1="714.40" x2="214.30" y2="717.70" stroke="#000" stroke-width="1.8" />
<text x="88.30" y="674.04" font-size="18" font-weight="bold" text-anchor="middle">*</text>
<text x="116.30" y="663.24" font-size="18" font-weight="bold" text-anchor="middle">*</text>
<text x="172.20" y="644.24" font-size="18" font-weight="bold" text-anchor="middle">*</text>
<text x="200.40" y="647.64" font-size="18" font-weight="bold" text-anchor="middle">*</text>
<text x="114.50" y="605.20" font-size="12.3" text-anchor="start" font-weight="bold" textLength="40.50" lengthAdjust="spacingAndGlyphs">BT474</text>
<polyline points="50.60,629.50 50.60,620.80 124.60,620.80 124.60,629.50" fill="none" stroke="#3a3a3a" stroke-width="1.4" />
<polyline points="133.90,629.50 133.90,620.80 208.70,620.80 208.70,629.50" fill="none" stroke="#3a3a3a" stroke-width="1.4" />
<text x="73.90" y="618.30" font-size="12.3" text-anchor="start" font-weight="bold" font-style="italic" textLength="37.50" lengthAdjust="spacingAndGlyphs">erbB2</text>
<text x="154.20" y="618.30" font-size="12.3" text-anchor="start" font-weight="bold" font-style="italic" textLength="38.90" lengthAdjust="spacingAndGlyphs">erbB3</text>
<text transform="translate(11.40 712.00) rotate(-90) scale(1 1.0)" x="0" y="0" font-size="13.8" font-weight="bold" text-anchor="start" textLength="231.60" lengthAdjust="spacingAndGlyphs">Relative mRNA Expression Levels</text>
<text transform="translate(67.30 730.30) rotate(-45)" x="0" y="0" font-size="14" font-weight="bold" text-anchor="end">Control</text>
<text transform="translate(94.40 728.90) rotate(-45)" x="0" y="0" font-size="14" font-weight="bold" text-anchor="end">SAHA</text>
<text transform="translate(123.60 730.30) rotate(-45)" x="0" y="0" font-size="14" font-weight="bold" text-anchor="end">panobinostat</text>
<text transform="translate(151.80 730.30) rotate(-45)" x="0" y="0" font-size="14" font-weight="bold" text-anchor="end">Control</text>
<text transform="translate(180.30 729.90) rotate(-45)" x="0" y="0" font-size="14" font-weight="bold" text-anchor="end">SAHA</text>
<text transform="translate(206.70 731.30) rotate(-45)" x="0" y="0" font-size="14" font-weight="bold" text-anchor="end">panobinostat</text>
<text x="246.30" y="461.00" font-size="17.2" text-anchor="start" font-weight="bold">d</text>
<rect x="301.46" y="580.20" width="10.20" height="134.00" fill="#000" />
<line x1="322.29" y1="584.82" x2="322.29" y2="562.78" stroke="#333" stroke-width="1.1" />
<line x1="318.79" y1="562.78" x2="325.79" y2="562.78" stroke="#333" stroke-width="1.1" />
<rect x="317.19" y="583.82" width="10.20" height="130.38" fill="#000" />
<line x1="338.01" y1="596.34" x2="338.01" y2="573.23" stroke="#333" stroke-width="1.1" />
<line x1="334.51" y1="573.23" x2="341.51" y2="573.23" stroke="#333" stroke-width="1.1" />
<rect x="332.91" y="595.34" width="10.20" height="118.86" fill="#000" />
<rect x="348.64" y="580.20" width="10.20" height="134.00" fill="#000" />
<line x1="369.46" y1="594.73" x2="369.46" y2="569.61" stroke="#333" stroke-width="1.1" />
<line x1="365.96" y1="569.61" x2="372.96" y2="569.61" stroke="#333" stroke-width="1.1" />
<rect x="364.36" y="593.73" width="10.20" height="120.47" fill="#000" />
<line x1="385.19" y1="594.73" x2="385.19" y2="580.60" stroke="#333" stroke-width="1.1" />
<line x1="381.69" y1="580.60" x2="388.69" y2="580.60" stroke="#333" stroke-width="1.1" />
<rect x="380.09" y="593.73" width="10.20" height="120.47" fill="#000" />
<rect x="411.54" y="580.20" width="10.20" height="134.00" fill="#000" />
<line x1="432.36" y1="570.35" x2="432.36" y2="552.19" stroke="#333" stroke-width="1.1" />
<line x1="428.86" y1="552.19" x2="435.86" y2="552.19" stroke="#333" stroke-width="1.1" />
<rect x="427.26" y="569.35" width="10.20" height="144.85" fill="#000" />
<line x1="448.09" y1="563.38" x2="448.09" y2="547.91" stroke="#333" stroke-width="1.1" />
<line x1="444.59" y1="547.91" x2="451.59" y2="547.91" stroke="#333" stroke-width="1.1" />
<rect x="442.99" y="562.38" width="10.20" height="151.82" fill="#000" />
<rect x="458.71" y="580.20" width="10.20" height="134.00" fill="#000" />
<line x1="479.54" y1="603.98" x2="479.54" y2="582.75" stroke="#333" stroke-width="1.1" />
<line x1="476.04" y1="582.75" x2="483.04" y2="582.75" stroke="#333" stroke-width="1.1" />
<rect x="474.44" y="602.98" width="10.20" height="111.22" fill="#000" />
<line x1="495.26" y1="587.50" x2="495.26" y2="552.86" stroke="#333" stroke-width="1.1" />
<line x1="491.76" y1="552.86" x2="498.76" y2="552.86" stroke="#333" stroke-width="1.1" />
<rect x="490.16" y="586.50" width="10.20" height="127.70" fill="#000" />
<rect x="521.61" y="580.20" width="10.20" height="134.00" fill="#000" />
<line x1="542.44" y1="588.30" x2="542.44" y2="569.61" stroke="#333" stroke-width="1.1" />
<line x1="538.94" y1="569.61" x2="545.94" y2="569.61" stroke="#333" stroke-width="1.1" />
<rect x="537.34" y="587.30" width="10.20" height="126.90" fill="#000" />
<line x1="558.16" y1="596.74" x2="558.16" y2="565.19" stroke="#333" stroke-width="1.1" />
<line x1="554.66" y1="565.19" x2="561.66" y2="565.19" stroke="#333" stroke-width="1.1" />
<rect x="553.06" y="595.74" width="10.20" height="118.46" fill="#000" />
<rect x="568.79" y="580.20" width="10.20" height="134.00" fill="#000" />
<line x1="589.61" y1="605.59" x2="589.61" y2="588.64" stroke="#333" stroke-width="1.1" />
<line x1="586.11" y1="588.64" x2="593.11" y2="588.64" stroke="#333" stroke-width="1.1" />
<rect x="584.51" y="604.59" width="10.20" height="109.61" fill="#000" />
<line x1="605.34" y1="579.86" x2="605.34" y2="572.56" stroke="#333" stroke-width="1.1" />
<line x1="601.84" y1="572.56" x2="608.84" y2="572.56" stroke="#333" stroke-width="1.1" />
<rect x="600.24" y="578.86" width="10.20" height="135.34" fill="#000" />
<line x1="298.70" y1="526.10" x2="298.70" y2="715.10" stroke="#000" stroke-width="1.8" />
<line x1="297.80" y1="714.20" x2="614.10" y2="714.20" stroke="#000" stroke-width="1.8" />
<line x1="298.70" y1="714.20" x2="295.20" y2="714.20" stroke="#000" stroke-width="1.8" />
<text transform="translate(289.50 718.50) scale(1.13 1)" font-size="12.0" font-weight="bold" text-anchor="end">0</text>
<line x1="298.70" y1="687.40" x2="295.20" y2="687.40" stroke="#000" stroke-width="1.8" />
<text transform="translate(289.50 691.70) scale(1.13 1)" font-size="12.0" font-weight="bold" text-anchor="end">0.2</text>
<line x1="298.70" y1="660.60" x2="295.20" y2="660.60" stroke="#000" stroke-width="1.8" />
<text transform="translate(289.50 664.90) scale(1.13 1)" font-size="12.0" font-weight="bold" text-anchor="end">0.4</text>
<line x1="298.70" y1="633.80" x2="295.20" y2="633.80" stroke="#000" stroke-width="1.8" />
<text transform="translate(289.50 638.10) scale(1.13 1)" font-size="12.0" font-weight="bold" text-anchor="end">0.6</text>
<line x1="298.70" y1="607.00" x2="295.20" y2="607.00" stroke="#000" stroke-width="1.8" />
<text transform="translate(289.50 611.30) scale(1.13 1)" font-size="12.0" font-weight="bold" text-anchor="end">0.8</text>
<line x1="298.70" y1="580.20" x2="295.20" y2="580.20" stroke="#000" stroke-width="1.8" />
<text transform="translate(289.50 584.50) scale(1.13 1)" font-size="12.0" font-weight="bold" text-anchor="end">1</text>
<line x1="298.70" y1="553.40" x2="295.20" y2="553.40" stroke="#000" stroke-width="1.8" />
<text transform="translate(289.50 557.70) scale(1.13 1)" font-size="12.0" font-weight="bold" text-anchor="end">1.2</text>
<line x1="298.70" y1="526.60" x2="295.20" y2="526.60" stroke="#000" stroke-width="1.8" />
<text transform="translate(289.50 530.90) scale(1.13 1)" font-size="12.0" font-weight="bold" text-anchor="end">1.4</text>
<line x1="298.70" y1="714.20" x2="298.70" y2="717.50" stroke="#000" stroke-width="1.8" />
<line x1="314.43" y1="714.20" x2="314.43" y2="717.50" stroke="#000" stroke-width="1.8" />
<line x1="330.15" y1="714.20" x2="330.15" y2="717.50" stroke="#000" stroke-width="1.8" />
<line x1="345.88" y1="714.20" x2="345.88" y2="717.50" stroke="#000" stroke-width="1.8" />
<line x1="361.60" y1="714.20" x2="361.60" y2="717.50" stroke="#000" stroke-width="1.8" />
<line x1="377.32" y1="714.20" x2="377.32" y2="717.50" stroke="#000" stroke-width="1.8" />
<line x1="393.05" y1="714.20" x2="393.05" y2="717.50" stroke="#000" stroke-width="1.8" />
<line x1="408.77" y1="714.20" x2="408.77" y2="717.50" stroke="#000" stroke-width="1.8" />
<line x1="424.50" y1="714.20" x2="424.50" y2="717.50" stroke="#000" stroke-width="1.8" />
<line x1="440.23" y1="714.20" x2="440.23" y2="717.50" stroke="#000" stroke-width="1.8" />
<line x1="455.95" y1="714.20" x2="455.95" y2="717.50" stroke="#000" stroke-width="1.8" />
<line x1="471.68" y1="714.20" x2="471.68" y2="717.50" stroke="#000" stroke-width="1.8" />
<line x1="487.40" y1="714.20" x2="487.40" y2="717.50" stroke="#000" stroke-width="1.8" />
<line x1="503.12" y1="714.20" x2="503.12" y2="717.50" stroke="#000" stroke-width="1.8" />
<line x1="518.85" y1="714.20" x2="518.85" y2="717.50" stroke="#000" stroke-width="1.8" />
<line x1="534.58" y1="714.20" x2="534.58" y2="717.50" stroke="#000" stroke-width="1.8" />
<line x1="550.30" y1="714.20" x2="550.30" y2="717.50" stroke="#000" stroke-width="1.8" />
<line x1="566.03" y1="714.20" x2="566.03" y2="717.50" stroke="#000" stroke-width="1.8" />
<line x1="581.75" y1="714.20" x2="581.75" y2="717.50" stroke="#000" stroke-width="1.8" />
<line x1="597.48" y1="714.20" x2="597.48" y2="717.50" stroke="#000" stroke-width="1.8" />
<line x1="613.20" y1="714.20" x2="613.20" y2="717.50" stroke="#000" stroke-width="1.8" />
<text transform="translate(256.10 714.00) rotate(-90) scale(1 1.0)" x="0" y="0" font-size="13.4" font-weight="bold" text-anchor="start" textLength="183.40" lengthAdjust="spacingAndGlyphs">Relative Expression Levels</text>
<text x="316.30" y="513.40" font-size="12.3" text-anchor="start" font-weight="bold" textLength="63.20" lengthAdjust="spacingAndGlyphs">miR-125a</text>
<text x="421.50" y="513.40" font-size="12.3" text-anchor="start" font-weight="bold" textLength="63.80" lengthAdjust="spacingAndGlyphs">miR-125b</text>
<text x="538.60" y="513.40" font-size="12.3" text-anchor="start" font-weight="bold" textLength="54.80" lengthAdjust="spacingAndGlyphs">miR-205</text>
<polyline points="300.10,526.20 300.10,517.40 393.70,517.40 393.70,526.20" fill="none" stroke="#333" stroke-width="1.3" />
<polyline points="408.80,526.20 408.80,517.40 502.20,517.40 502.20,526.20" fill="none" stroke="#333" stroke-width="1.3" />
<polyline points="519.70,526.20 519.70,517.40 613.40,517.40 613.40,526.20" fill="none" stroke="#333" stroke-width="1.3" />
<polyline points="300.10,552.80 300.10,543.10 345.80,543.10 345.80,552.80" fill="none" stroke="#333" stroke-width="1.3" />
<polyline points="347.30,552.80 347.30,543.10 393.20,543.10 393.20,552.80" fill="none" stroke="#333" stroke-width="1.3" />
<polyline points="408.80,552.80 408.80,543.10 454.40,543.10 454.40,552.80" fill="none" stroke="#333" stroke-width="1.3" />
<polyline points="455.80,552.80 455.80,543.10 502.20,543.10 502.20,552.80" fill="none" stroke="#333" stroke-width="1.3" />
<polyline points="520.30,552.80 520.30,543.10 565.40,543.10 565.40,552.80" fill="none" stroke="#333" stroke-width="1.3" />
<polyline points="567.00,552.80 567.00,543.10 613.40,543.10 613.40,552.80" fill="none" stroke="#333" stroke-width="1.3" />
<text x="312.80" y="538.20" font-size="12.3" text-anchor="start" font-weight="bold" textLength="22.50" lengthAdjust="spacingAndGlyphs">453</text>
<text x="423.20" y="538.20" font-size="12.3" text-anchor="start" font-weight="bold" textLength="22.10" lengthAdjust="spacingAndGlyphs">453</text>
<text x="532.90" y="538.20" font-size="12.3" text-anchor="start" font-weight="bold" textLength="22.60" lengthAdjust="spacingAndGlyphs">453</text>
<text x="351.50" y="538.20" font-size="12.3" text-anchor="start" font-weight="bold" textLength="40.70" lengthAdjust="spacingAndGlyphs">BT474</text>
<text x="461.50" y="538.20" font-size="12.3" text-anchor="start" font-weight="bold" textLength="40.10" lengthAdjust="spacingAndGlyphs">BT474</text>
<text x="571.30" y="538.20" font-size="12.3" text-anchor="start" font-weight="bold" textLength="40.40" lengthAdjust="spacingAndGlyphs">BT474</text>
<text transform="translate(312.36 730.20) rotate(-45)" x="0" y="0" font-size="14" font-weight="bold" text-anchor="end">Control</text>
<text transform="translate(330.19 728.90) rotate(-45)" x="0" y="0" font-size="14" font-weight="bold" text-anchor="end">SAHA</text>
<text transform="translate(346.11 731.00) rotate(-45)" x="0" y="0" font-size="14" font-weight="bold" text-anchor="end">panobinostat</text>
<text transform="translate(361.54 730.70) rotate(-45)" x="0" y="0" font-size="14" font-weight="bold" text-anchor="end">Control</text>
<text transform="translate(379.36 729.40) rotate(-45)" x="0" y="0" font-size="14" font-weight="bold" text-anchor="end">SAHA</text>
<text transform="translate(395.29 731.50) rotate(-45)" x="0" y="0" font-size="14" font-weight="bold" text-anchor="end">panobinostat</text>
<text transform="translate(422.44 730.20) rotate(-45)" x="0" y="0" font-size="14" font-weight="bold" text-anchor="end">Control</text>
<text transform="translate(440.26 728.90) rotate(-45)" x="0" y="0" font-size="14" font-weight="bold" text-anchor="end">SAHA</text>
<text transform="translate(456.19 731.00) rotate(-45)" x="0" y="0" font-size="14" font-weight="bold" text-anchor="end">panobinostat</text>
<text transform="translate(471.61 730.70) rotate(-45)" x="0" y="0" font-size="14" font-weight="bold" text-anchor="end">Control</text>
<text transform="translate(489.44 729.40) rotate(-45)" x="0" y="0" font-size="14" font-weight="bold" text-anchor="end">SAHA</text>
<text transform="translate(505.36 731.50) rotate(-45)" x="0" y="0" font-size="14" font-weight="bold" text-anchor="end">panobinostat</text>
<text transform="translate(532.51 730.20) rotate(-45)" x="0" y="0" font-size="14" font-weight="bold" text-anchor="end">Control</text>
<text transform="translate(550.34 728.90) rotate(-45)" x="0" y="0" font-size="14" font-weight="bold" text-anchor="end">SAHA</text>
<text transform="translate(566.26 731.00) rotate(-45)" x="0" y="0" font-size="14" font-weight="bold" text-anchor="end">panobinostat</text>
<text transform="translate(581.69 730.70) rotate(-45)" x="0" y="0" font-size="14" font-weight="bold" text-anchor="end">Control</text>
<text transform="translate(599.51 729.40) rotate(-45)" x="0" y="0" font-size="14" font-weight="bold" text-anchor="end">SAHA</text>
<text transform="translate(615.44 731.50) rotate(-45)" x="0" y="0" font-size="14" font-weight="bold" text-anchor="end">panobinostat</text>
</svg>
</body></html>
